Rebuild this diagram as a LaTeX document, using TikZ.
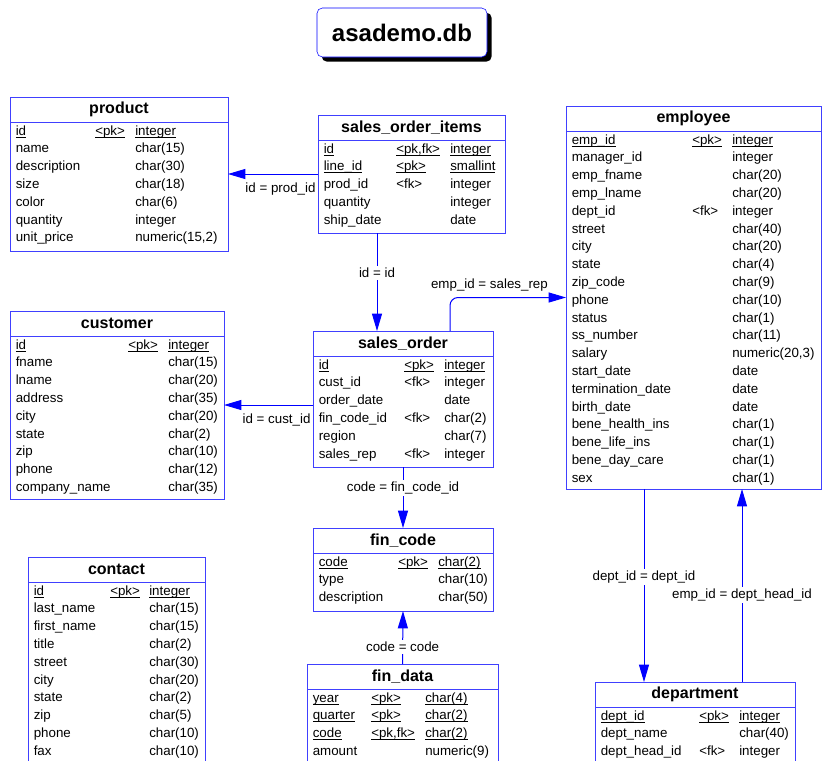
\documentclass[tikz,border=0pt]{standalone}
\usepackage{fontspec}
\setmainfont{Liberation Sans}
\usetikzlibrary{arrows.meta, shadows}
\definecolor{tblblue}{RGB}{64,64,255}
\newcommand{\pkline}[1]{\underline{\smash{#1}}}
% #1 name, #2 top left, #3 title, #4 width, #5 height, #6 key column, #7 type column, #8 key rows, #9 columns
\newcommand{\dbtable}[9]{%
  \node[tablebox, minimum width=#4*0.75pt, minimum height=#5*0.75pt] (#1) at (#2) {};
  \node[tabletitle] (#1-title) at ([shift={(0,12.5)}]#1.north) {#3};
  \draw[tableline] ([shift={(0,25)}]#1.north west) -- ([shift={(0,25)}]#1.north east);
  \foreach \colname/\colkey/\coltype [count=\i] in {#9} {
    \ifnum\i>#8\relax \let\colfmt\relax \else \let\colfmt\pkline \fi
    \node[coltext] (#1-\i-name) at ([shift={(5.5,{20.2+17.8*\i})}]#1.north west) {\colfmt{\colname}};
    \node[coltext] (#1-\i-key) at ([shift={(#6,{20.2+17.8*\i})}]#1.north west) {\colfmt{\colkey}};
    \node[coltext] (#1-\i-type) at ([shift={(#7,{20.2+17.8*\i})}]#1.north west) {\colfmt{\coltype}};
  }%
}

\begin{document}
\begin{tikzpicture}[x=0.75pt, y=-0.75pt,
    tablebox/.style={draw=tblblue, line width=0.75pt, fill=white, anchor=north west, inner sep=0pt, outer sep=0pt},
    tabletitle/.style={font=\large\bfseries, inner sep=0pt},
    tableline/.style={draw=tblblue, line width=0.75pt},
    coltext/.style={anchor=base west, inner sep=0pt},
    refline/.style={draw=blue, line width=0.75pt, -{Triangle[length=13pt, width=7.5pt]}},
    joinlabel/.style={fill=white, inner sep=1.5pt},
    dbtitle/.style={draw=blue, fill=white, rounded corners=4pt, minimum width=127.5pt, minimum height=36.75pt,
      font=\fontsize{18}{22}\selectfont\bfseries,
      drop shadow={shadow xshift=3.5pt, shadow yshift=-3.5pt, fill=black, opacity=1}}]
    \path[use as bounding box, fill=white] (0,0) rectangle (822,761);

    % Title
    \node[dbtitle] (dbname) at (402,32.5) {asademo.db};

    % Tables
    \dbtable{product}{10,97}{product}{218}{154}{85}{125}{1}{%
      id/<pk>/integer, name//char(15), description//char(30), size//char(18), color//char(6),
      quantity//integer, unit\_price//{numeric(15,2)}}
    \dbtable{soi}{318,115}{sales\_order\_items}{187}{118}{78}{132}{2}{%
      id/{<pk,fk>}/integer, line\_id/<pk>/smallint, prod\_id/<fk>/integer, quantity//integer, ship\_date//date}
    \dbtable{emp}{566,106}{employee}{255}{383}{126}{166}{1}{%
      emp\_id/<pk>/integer, manager\_id//integer, emp\_fname//char(20), emp\_lname//char(20),
      dept\_id/<fk>/integer, street//char(40), city//char(20), state//char(4), zip\_code//char(9),
      phone//char(10), status//char(1), ss\_number//char(11), salary//{numeric(20,3)},
      start\_date//date, termination\_date//date, birth\_date//date, bene\_health\_ins//char(1),
      bene\_life\_ins//char(1), bene\_day\_care//char(1), sex//char(1)}
    \dbtable{customer}{10,311}{customer}{214}{188}{118}{158}{1}{%
      id/<pk>/integer, fname//char(15), lname//char(20), address//char(35), city//char(20),
      state//char(2), zip//char(10), phone//char(12), company\_name//char(35)}
    \dbtable{so}{313,331}{sales\_order}{180}{136}{91}{131}{1}{%
      id/<pk>/integer, cust\_id/<fk>/integer, order\_date//date, fin\_code\_id/<fk>/char(2),
      region//char(7), sales\_rep/<fk>/integer}
    \dbtable{fincode}{313,528}{fin\_code}{180}{83}{85}{125}{1}{%
      code/<pk>/char(2), type//char(10), description//char(50)}
    \dbtable{findata}{307,664}{fin\_data}{191}{101}{64}{118}{3}{%
      year/<pk>/char(4), quarter/<pk>/char(2), code/{<pk,fk>}/char(2), amount//numeric(9)}
    \dbtable{contact}{28,557}{contact}{177}{208}{82}{121}{1}{%
      id/<pk>/integer, last\_name//char(15), first\_name//char(15), title//char(2), street//char(30),
      city//char(20), state//char(2), zip//char(5), phone//char(10), fax//char(10)}
    \dbtable{dept}{595,682}{department}{200}{83}{104}{144}{1}{%
      dept\_id/<pk>/integer, dept\_name//char(40), dept\_head\_id/<fk>/integer}

    % Ends of the relations
    \coordinate (soi-out) at ([shift={(-34.5,0)}]soi.south);
    \coordinate (emp-out) at ([shift={(-49.5,0)}]emp.south);
    \coordinate (dept-out) at ([shift={(47,0)}]dept.north);

    % Relations
    \draw[refline] (soi.west) -- (product.east |- soi.west)
      node[joinlabel, pos=0, anchor=north east, yshift=-4.5pt] {id = prod\_id};
    \draw[refline] (soi-out) -- (soi-out |- so.north)
      node[joinlabel, pos=0.41] {id = id};
    \draw[refline, rounded corners=6pt] ([shift={(47,0)}]so.north) |- (emp.west)
      node[joinlabel, pos=0.67, above=3pt] {emp\_id = sales\_rep};
    \draw[refline] (so.west |- customer.east) -- (customer.east)
      node[joinlabel, pos=0, anchor=north east, yshift=-4.5pt] {id = cust\_id};
    \draw[refline] (so.south) -- (fincode.north)
      node[joinlabel, pos=0.34] {code = fin\_code\_id};
    \draw[refline] (findata.north) -- (fincode.south)
      node[joinlabel, pos=0.32] {code = code};
    \draw[refline] (emp-out) -- (emp-out |- dept.north)
      node[joinlabel, pos=0.456] {dept\_id = dept\_id};
    \draw[refline] (dept-out) -- (dept-out |- emp.south)
      node[joinlabel, pos=0.45] {emp\_id = dept\_head\_id};
\end{tikzpicture}
\end{document}
